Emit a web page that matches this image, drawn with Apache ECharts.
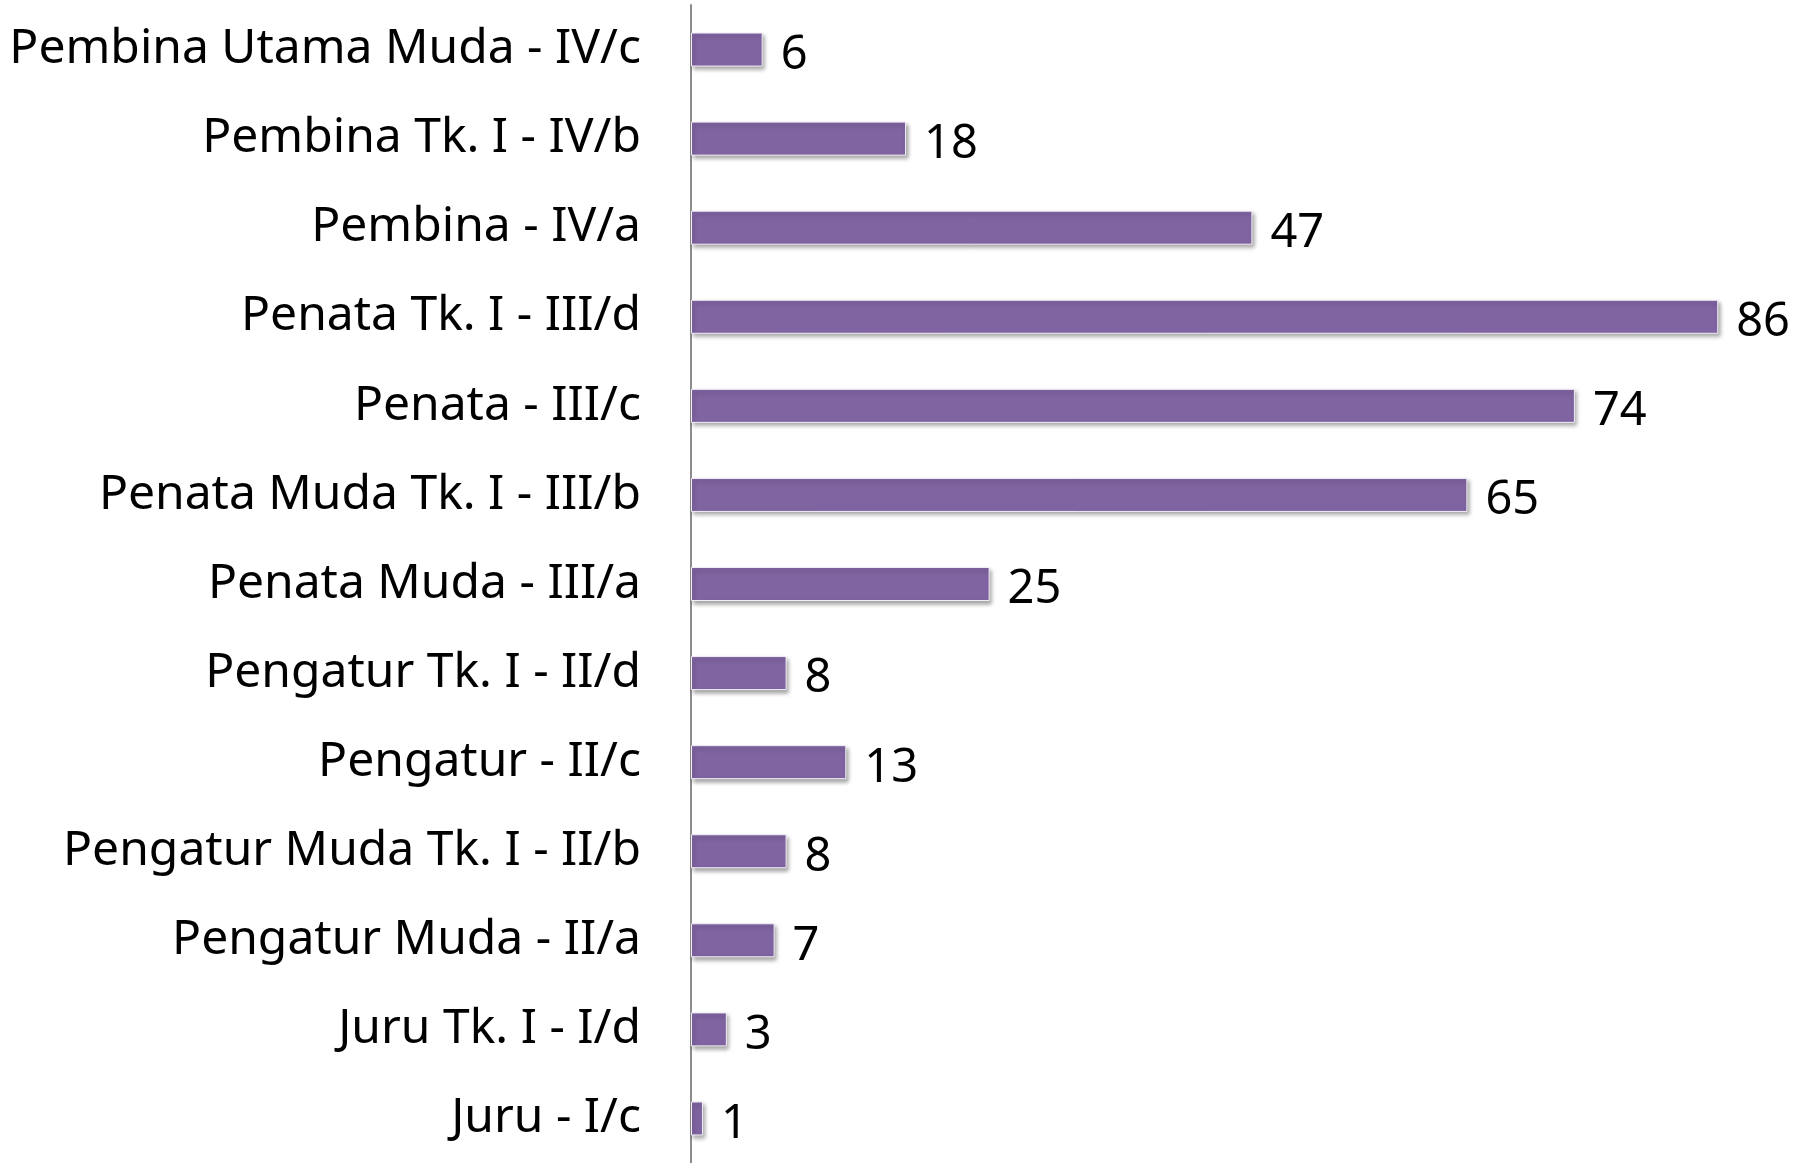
<!DOCTYPE html>
<html>
<head>
<meta charset="utf-8">
<title>Golongan</title>
<script src="https://cdn.jsdelivr.net/npm/echarts@6/dist/echarts.min.js"></script>
<style>
  html, body { margin: 0; padding: 0; background: #fff; }
  #chart { width: 1806px; height: 1163px; }
</style>
</head>
<body>
<div id="chart"></div>
<script>
// kategori dari atas ke bawah
const golongan = [
  "Pembina Utama Muda - IV/c",
  "Pembina Tk. I - IV/b",
  "Pembina - IV/a",
  "Penata Tk. I - III/d",
  "Penata - III/c",
  "Penata Muda Tk. I - III/b",
  "Penata Muda - III/a",
  "Pengatur Tk. I - II/d",
  "Pengatur - II/c",
  "Pengatur Muda Tk. I - II/b",
  "Pengatur Muda - II/a",
  "Juru Tk. I - I/d",
  "Juru - I/c"
];
const jumlah = [6, 18, 47, 86, 74, 65, 25, 8, 13, 8, 7, 3, 1];

const myChart = echarts.init(document.getElementById("chart"));
myChart.setOption({
  animation: false,
  textStyle: { fontFamily: "Noto Sans" },
  grid: { left: 691, top: 5, height: 1163, right: 40 },
  xAxis: {
    type: "value",
    min: 0,
    max: 90,
    show: false
  },
  yAxis: {
    type: "category",
    inverse: true,
    data: golongan,
    axisLine: { show: true, lineStyle: { color: "#8c8c8c", width: 2 } },
    axisTick: { show: false },
    axisLabel: {
      margin: 50,
      fontSize: 48,
      color: "#000",
      fontFamily: "Noto Sans",
      padding: [12, 0, 0, 0]
    }
  },
  series: [
    {
      type: "bar",
      data: jumlah,
      barWidth: 34,
      itemStyle: {
        color: "#8064a2",
        borderColor: "#f2eef7",
        borderWidth: 1,
        shadowColor: "rgba(0,0,0,0.35)",
        shadowBlur: 4,
        shadowOffsetX: 2,
        shadowOffsetY: 3
      },
      label: {
        show: true,
        position: "right",
        distance: 18,
        fontSize: 47,
        color: "#000",
        fontFamily: "Noto Sans",
        offset: [0, 6]
      }
    }
  ]
});
</script>
</body>
</html>
